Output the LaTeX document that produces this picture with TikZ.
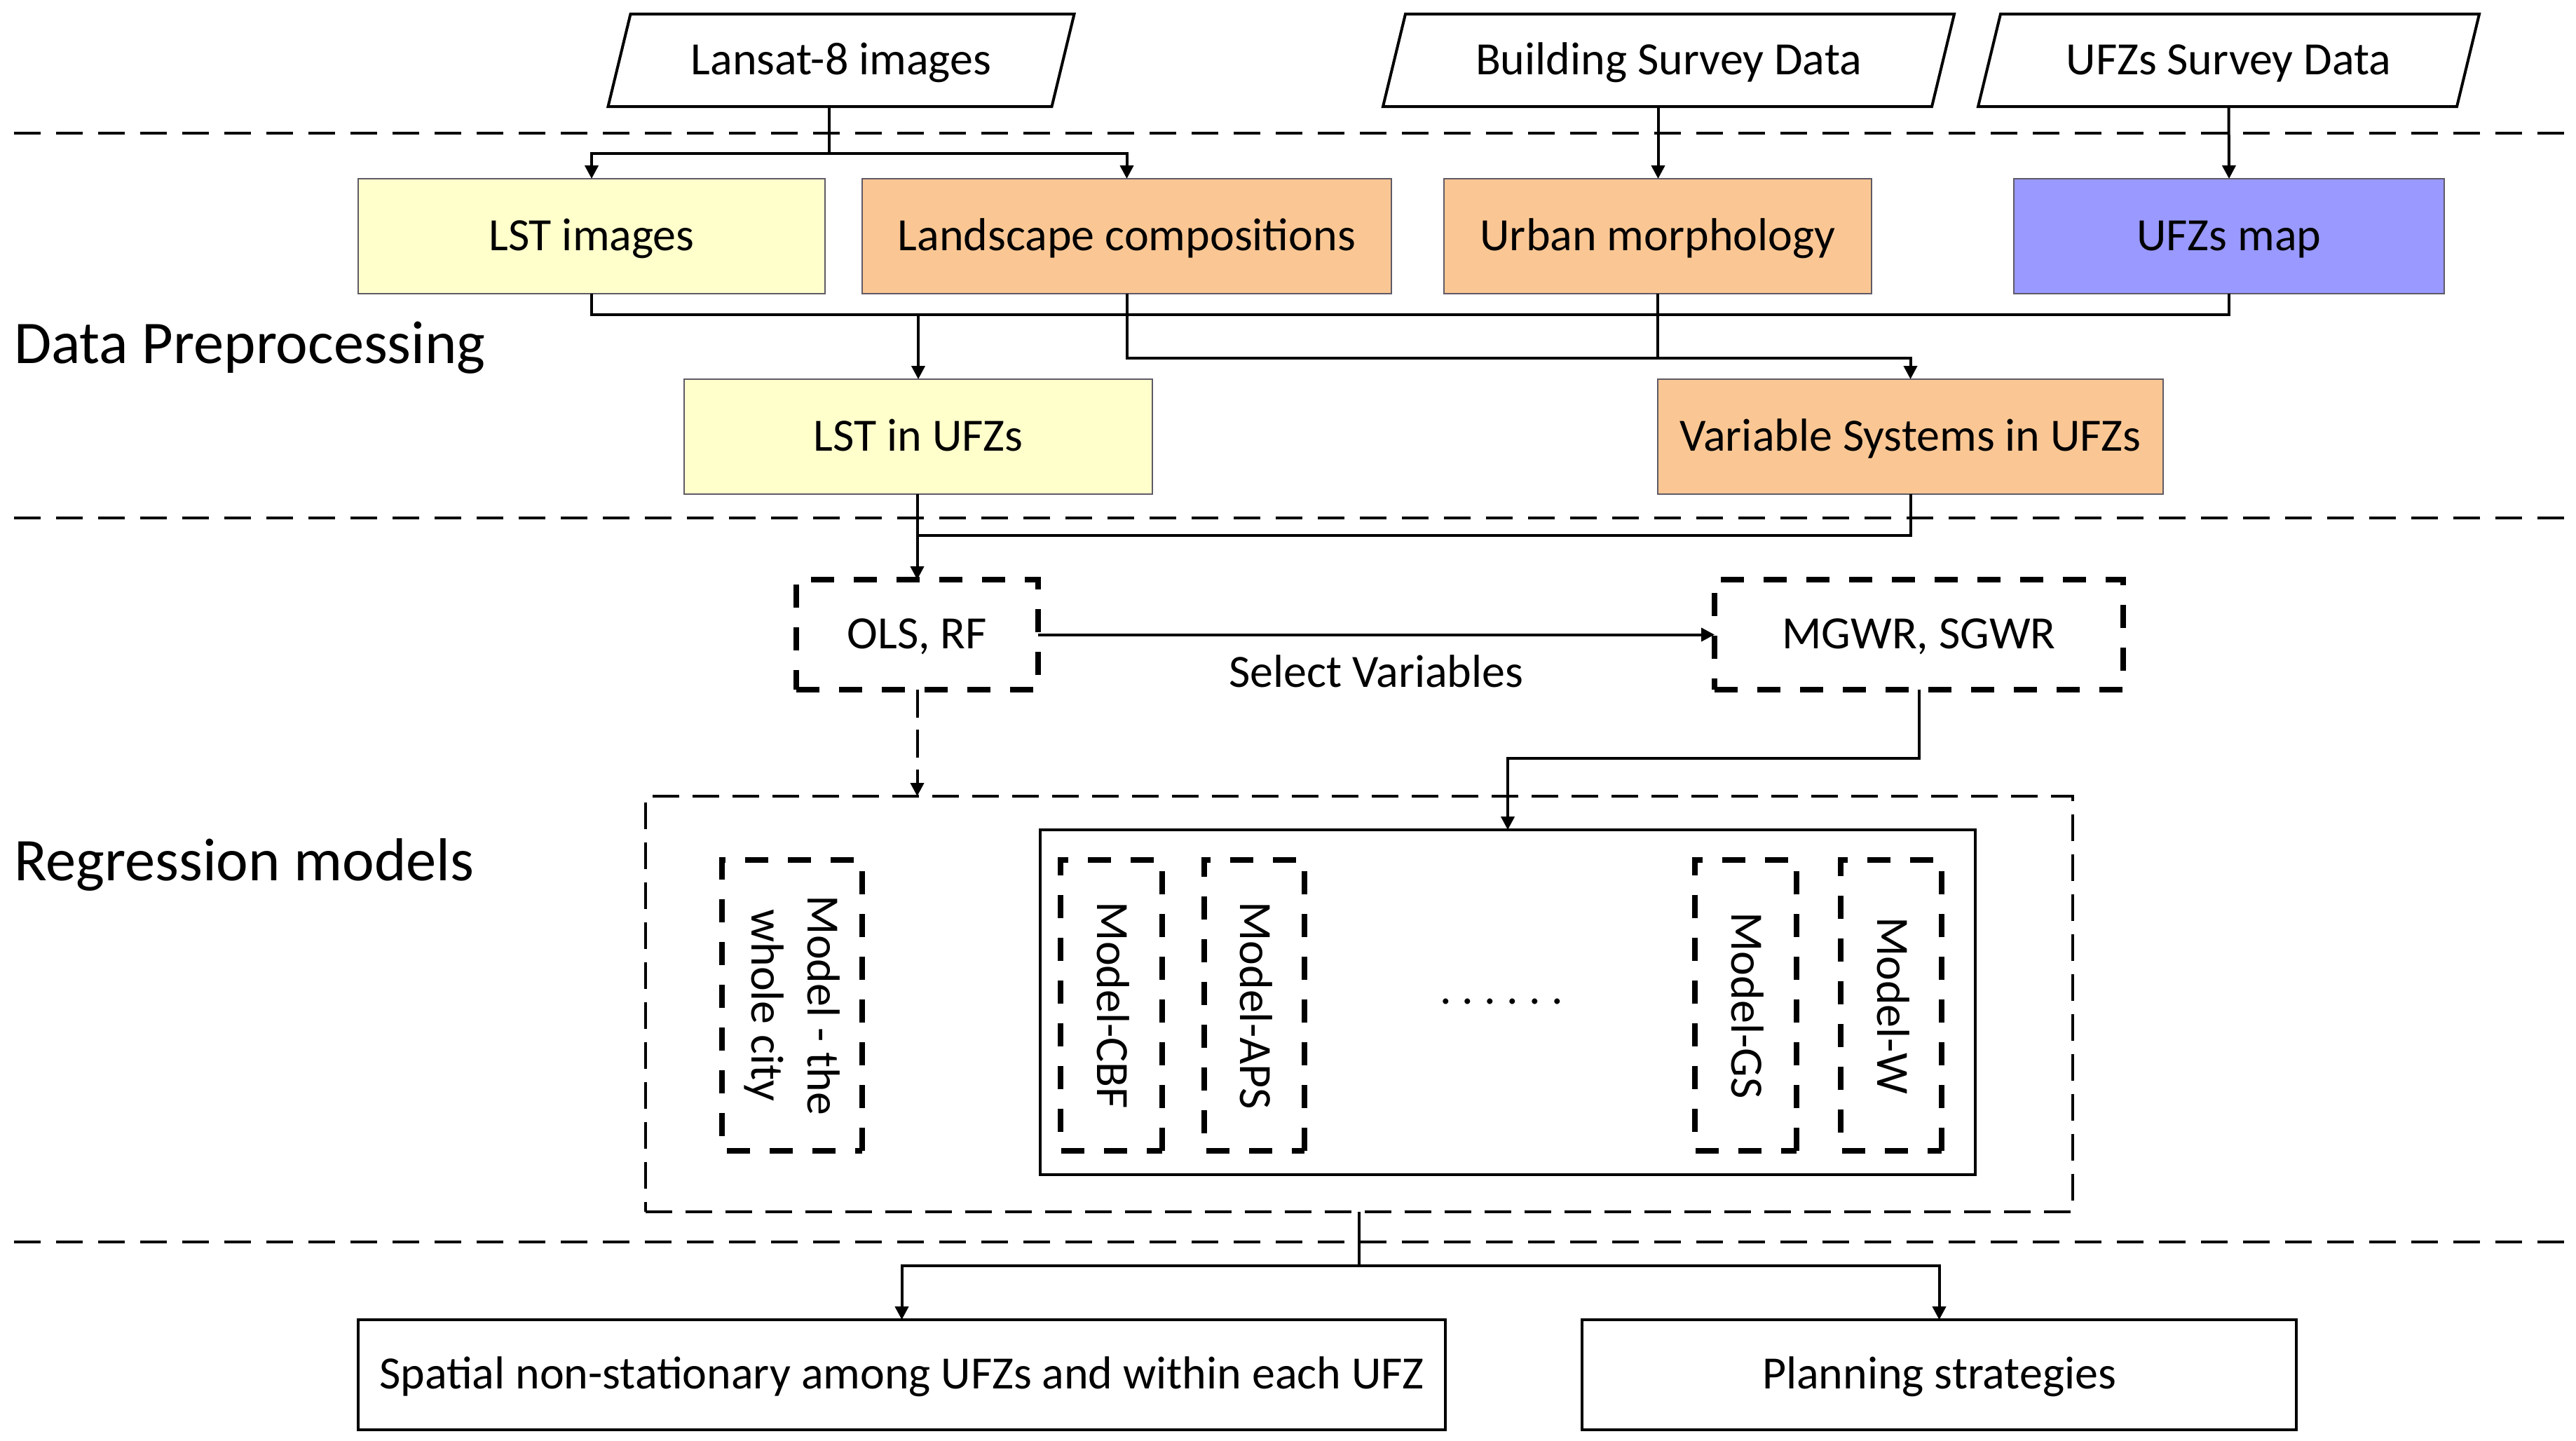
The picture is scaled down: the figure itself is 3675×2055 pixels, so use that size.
\documentclass[tikz,border=0pt]{standalone}
\usepackage{fontspec}
\setmainfont{Carlito}
\usetikzlibrary{arrows.meta,calc}
\definecolor{lstyellow}{HTML}{FFFFCC}
\definecolor{peach}{HTML}{FAC794}
\definecolor{ufzblue}{HTML}{9999FF}
\definecolor{boxedge}{HTML}{5F5A66}
\begin{document}
\begin{tikzpicture}[x=0.2pt,y=-0.2pt,
  every node/.style={font=\fontsize{13.2}{16}\selectfont, inner sep=0pt, outer sep=0pt},
  capc/.style={text height=0.8em, text depth=0pt},
  colbox/.style={capc, draw=boxedge, line width=0.5pt, minimum height=32.8pt},
  paranode/.style={capc, minimum height=26.4pt},
  parafr/.style={draw=black, line width=0.8pt, line join=miter},
  thickdash/.style={draw=black, line width=1.5pt, dash pattern=on 6.6pt off 5.6pt},
  thindash/.style={draw=black, line width=0.8pt, dash pattern=on 7.6pt off 3.8pt},
  solidbox/.style={draw=black, line width=0.8pt},
  secline/.style={draw=black, line width=0.9pt, dash pattern=on 7.6pt off 4.4pt},
  conn/.style={draw=black, line width=0.8pt},
  arr/.style={conn, -{Triangle[length=3.8pt,width=3.8pt]}},
  dasharr/.style={arr, dash pattern=on 8pt off 3.4pt},
  seclabel/.style={font=\fontsize{17.3}{20}\selectfont, anchor=base west}
]
\useasboundingbox (0,0) rectangle (3675,2055);

% section separators
\draw[secline] (20,190) -- (3665,190);
\draw[secline] (20,739) -- (3665,739);
\draw[secline] (20,1772) -- (3665,1772);

% section labels
\node[seclabel] (dp) at (20,518) {Data Preprocessing};
\node[seclabel] (rm) at (20,1256) {Regression models};

% input data (parallelograms)
\node[paranode, minimum width=126.6pt] (lansat) at (1200,86) {Lansat-8 images};
\node[paranode, minimum width=156.6pt] (building) at (2380.5,86) {Building Survey Data};
\node[paranode, minimum width=136.6pt] (ufzsurvey) at (3179.5,86) {UFZs Survey Data};
\foreach \n in {lansat,building,ufzsurvey}
  \draw[parafr] ([xshift=-3.2pt]\n.south west) -- ([xshift=3.2pt]\n.north west)
     -- ([xshift=3.2pt]\n.north east) -- ([xshift=-3.2pt]\n.south east) -- cycle;

% preprocessing boxes
\node[colbox, fill=lstyellow, minimum width=133.2pt] (lst) at (844,337) {LST images};
\node[colbox, fill=peach, minimum width=151pt] (land) at (1607.5,337) {Landscape compositions};
\node[colbox, fill=peach, minimum width=122pt] (urban) at (2365,337) {Urban morphology};
\node[colbox, fill=ufzblue, minimum width=122.8pt] (ufzmap) at (3180,337) {UFZs map};
\node[colbox, fill=lstyellow, minimum width=133.6pt] (lstufz) at (1310,623) {LST in UFZs};
\node[colbox, fill=peach, minimum width=144.2pt] (varsys) at (2725.5,623) {Variable Systems in UFZs};

% models
\node[capc, thickdash, minimum width=69pt, minimum height=31.4pt] (ols) at (1308.5,905.5) {OLS, RF};
\node[capc, thickdash, minimum width=116.6pt, minimum height=31.4pt] (mgwr) at (2737.5,905.5) {MGWR, SGWR};
\node[thindash, minimum width=407.2pt, minimum height=118.6pt] (outer) at (1939,1432.5) {};
\node[solidbox, minimum width=266.8pt, minimum height=98.4pt] (inner) at (2151,1430) {};
\node[thickdash, rotate=-90, minimum width=83pt, minimum height=40pt, align=center] (city) at (1130,1434.5) {Model - the\\whole city};
\node[capc, thickdash, rotate=-90, minimum width=83pt, minimum height=29pt] (cbf) at (1585.5,1434.5) {Model-CBF};
\node[capc, thickdash, rotate=-90, minimum width=83pt, minimum height=28.6pt] (aps) at (1789.5,1434.5) {Model-APS};
\node[capc, thickdash, rotate=-90, minimum width=83pt, minimum height=29pt] (gs) at (2490.5,1434.5) {Model-GS};
\node[capc, thickdash, rotate=-90, minimum width=83pt, minimum height=28.8pt] (mw) at (2698,1434.5) {Model-W};
\node[anchor=base] (dots) at (2142,1432) {\addfontfeature{LetterSpace=23}......};

% outputs
\node[capc, solidbox, minimum width=310.2pt, minimum height=31.4pt] (spatial) at (1286.5,1961.5) {Spatial non-stationary among UFZs and within each UFZ};
\node[capc, solidbox, minimum width=203.8pt, minimum height=31.4pt] (planning) at (2766.5,1961.5) {Planning strategies};

% helper levels
\coordinate (y1) at (0,219);
\coordinate (y2) at (0,449);
\coordinate (y3) at (0,511);
\coordinate (y4) at (0,764);
\coordinate (y5) at (0,1082);
\coordinate (y6) at (0,1806);
\coordinate (ls) at ($(lansat.south)+(-17,0)$);
\coordinate (bs) at ($(building.south)+(-15,0)$);

% connectors
\draw[conn] (ls) -- (ls |- y1) coordinate (j1);
\draw[arr] (j1) -| (lst.north);
\draw[arr] (j1) -| (land.north);
\draw[arr] (bs) -- (bs |- urban.north);
\draw[arr] (ufzsurvey.south) -- (ufzmap.north);

\draw[arr] (lst.south) -- (lst.south |- y2) -| (lstufz.north);
\draw[conn] (ufzmap.south) |- (lstufz.north |- y2);
\draw[arr] (land.south) -- (land.south |- y3) -| (varsys.north);
\draw[conn] (urban.south) -- (urban.south |- y3);

\draw[arr] (ols.north |- lstufz.south) -- (ols.north);
\draw[conn] (varsys.south) |- (ols.north |- y4);

\draw[arr] (ols) -- node[capc, midway, yshift=-11pt] (selvar) {Select Variables} (mgwr);
\draw[dasharr] (ols.south) -- (ols.south |- outer.north);
\draw[arr] (mgwr.south) -- (mgwr.south |- y5) -| (inner.north);

\draw[conn] (outer.south) -- (outer.south |- y6) coordinate (j6);
\draw[arr] (j6) -| (spatial.north);
\draw[arr] (j6) -| (planning.north);
\end{tikzpicture}
\end{document}
